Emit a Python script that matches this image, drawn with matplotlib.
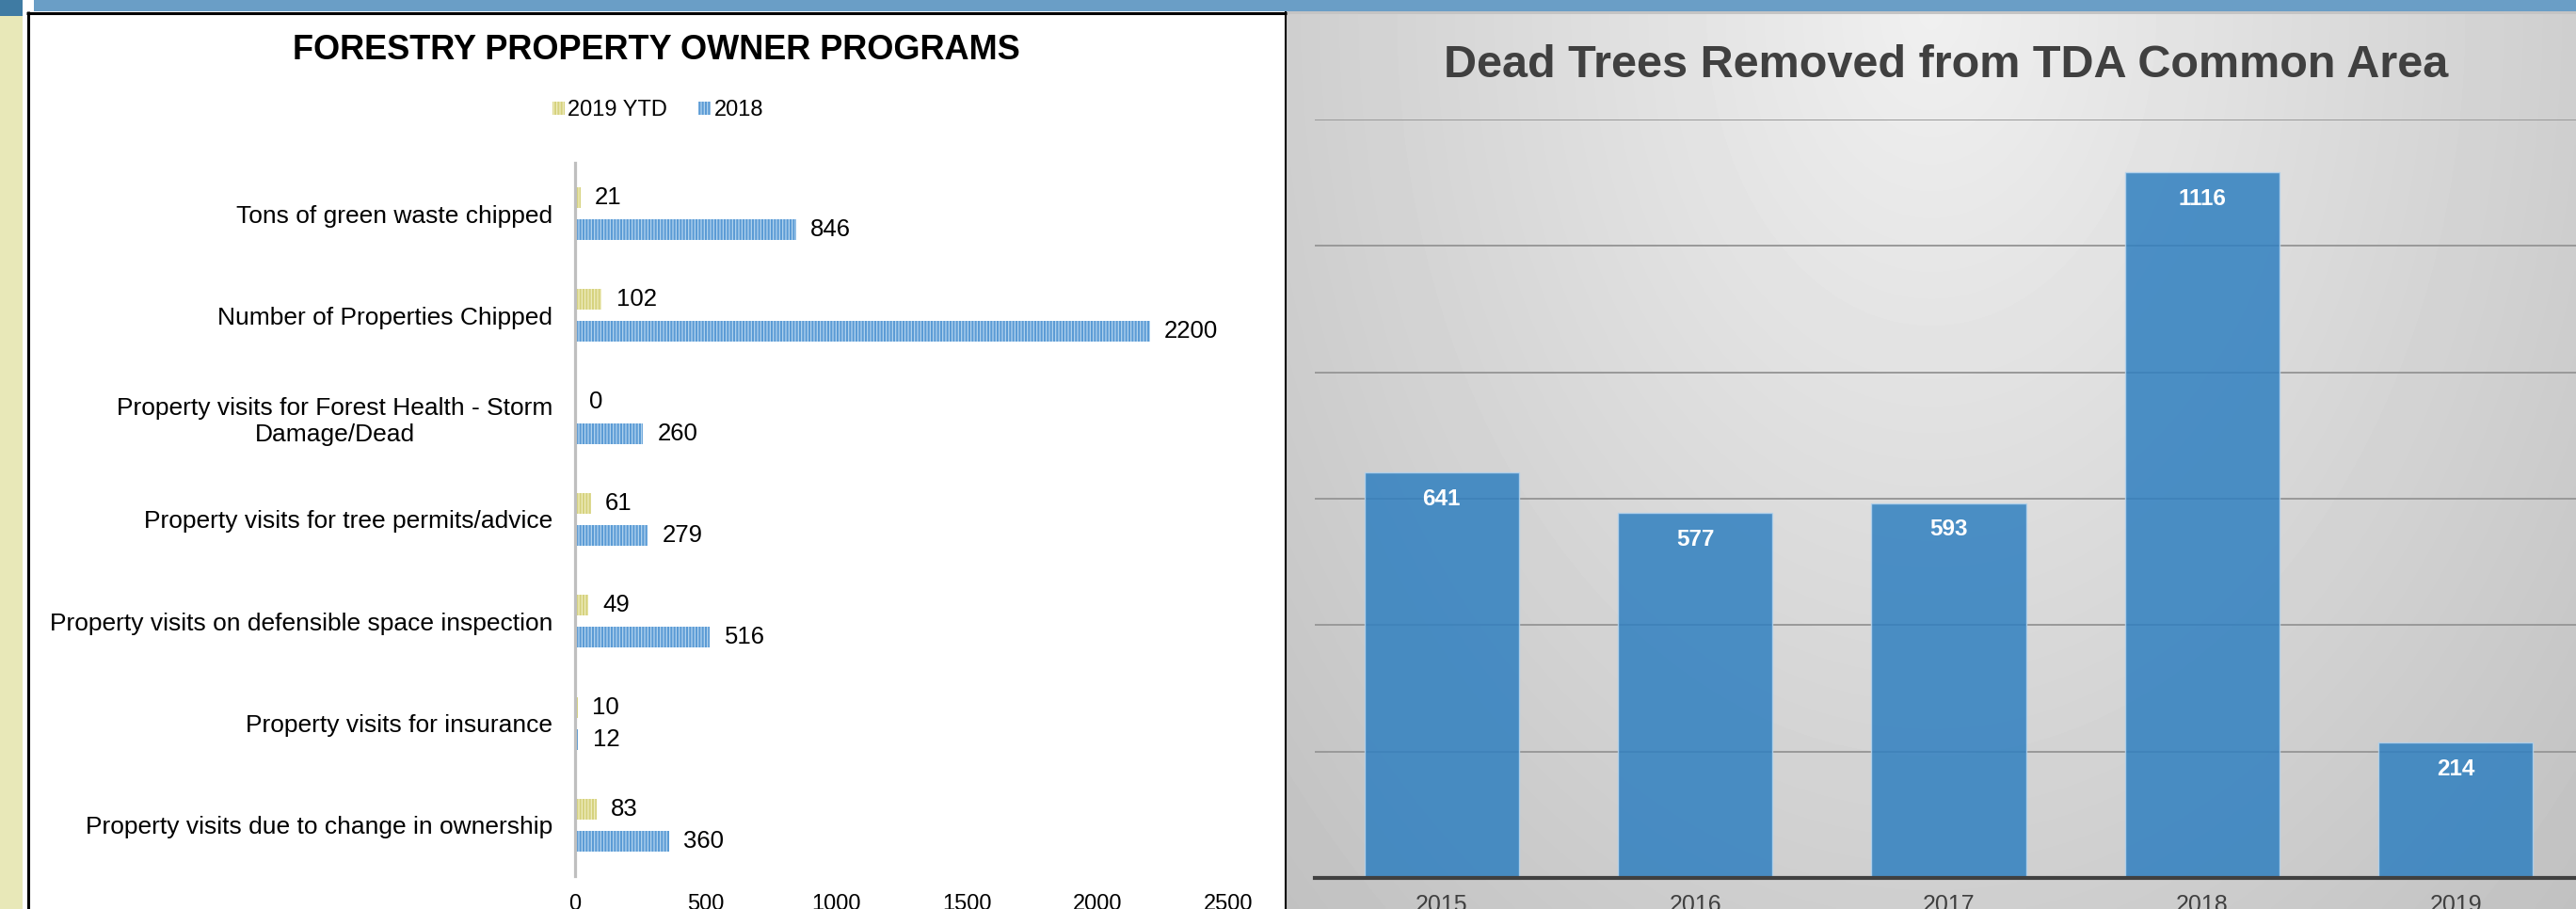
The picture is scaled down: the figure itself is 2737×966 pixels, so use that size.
import numpy as np
import matplotlib.pyplot as plt
from matplotlib import font_manager as fm
from matplotlib.patches import Rectangle

plt.rcParams['font.family'] = ['Liberation Sans', 'DejaVu Sans']
plt.rcParams['hatch.linewidth'] = 0.9

W, H = 2737, 966

# left chart: forestry programs
programs = ["Tons of green waste chipped",
            "Number of Properties Chipped",
            "Property visits for Forest Health - Storm\nDamage/Dead",
            "Property visits for tree permits/advice",
            "Property visits on defensible space inspection",
            "Property visits for insurance",
            "Property visits due to change in ownership"]
ytd_2019 = [21, 102, 0, 61, 49, 10, 83]
year_2018 = [846, 2200, 260, 279, 516, 12, 360]
x_ticks = [0, 500, 1000, 1500, 2000, 2500]

# right chart: dead trees removed
years = ["2015", "2016", "2017", "2018", "2019"]
dead_trees = [641, 577, 593, 1116, 214]


def box(l, t, r, b):
    # pixel rect -> figure fraction
    return [l / W, 1 - b / H, (r - l) / W, (b - t) / H]


fig = plt.figure(figsize=(W / 100, H / 100), dpi=100)

# slide decoration in pixel coords
bg = fig.add_axes([0, 0, 1, 1], zorder=0)
bg.set_xlim(0, W)
bg.set_ylim(H, 0)
bg.axis('off')
bg.add_patch(Rectangle((0, 0), 24, 17, color='#3f7ba3', lw=0))
bg.add_patch(Rectangle((0, 17), 24, H - 17, color='#e8e8b8', lw=0))
bg.add_patch(Rectangle((36, 0), W - 36, 12, color='#6a9ec6', lw=0))

gx, gy = np.meshgrid(np.linspace(-1, 1, 400), np.linspace(0, 1, 300))
shade = 0.94 - 0.13 * np.sqrt(gx ** 2 + gy ** 2)
bg.imshow(shade, cmap='gray', vmin=0, vmax=1, extent=(1367, W, H, 12),
          aspect='auto', interpolation='bilinear')
bg.add_patch(Rectangle((1367, 12), W - 1367, 2.5, color='#c4c4c4', lw=0))
bg.plot([28, 1367], [13.5, 13.5], color='black', lw=2.2, solid_capstyle='butt')
bg.plot([29.5, 29.5], [12, H], color='black', lw=2.2, solid_capstyle='butt')
bg.plot([1366, 1366], [12, H], color='black', lw=1.5, solid_capstyle='butt')

# ---- left chart ----
ax1 = fig.add_axes(box(611, 173, 1305, 931), zorder=1)
ax1.set_facecolor('none')
pos = np.arange(len(programs))
b1 = ax1.barh(pos - 0.157, ytd_2019, height=0.203, color='#d6d27e',
              edgecolor='#efedbf', hatch='|||||', lw=0)
b2 = ax1.barh(pos + 0.157, year_2018, height=0.203, color='#5b9bd5',
              edgecolor='#b3d4ef', hatch='|||||', lw=0)
for i in range(len(programs)):
    ax1.annotate(str(ytd_2019[i]), (ytd_2019[i], pos[i] - 0.157), xytext=(11, 0),
                 textcoords='offset points', va='center', fontsize=18.5)
    ax1.annotate(str(year_2018[i]), (year_2018[i], pos[i] + 0.157), xytext=(11, 0),
                 textcoords='offset points', va='center', fontsize=18.5)
ax1.set_xlim(0, 2500)
ax1.set_ylim(len(programs) - 0.5, -0.5)
ax1.set_xticks(x_ticks)
ax1.set_xticklabels([str(t) for t in x_ticks])
ax1.set_yticks(pos)
ax1.set_yticklabels(programs, multialignment='center')
ax1.tick_params(axis='x', length=0, pad=13.5, labelsize=17)
ax1.tick_params(axis='y', length=0, pad=17, labelsize=19)
for s in ['top', 'right', 'bottom']:
    ax1.spines[s].set_visible(False)
ax1.spines['left'].set_color('#bfbfbf')
ax1.spines['left'].set_linewidth(2.3)

fig.text(697 / W, 1 - 63 / H, "FORESTRY PROPERTY OWNER PROGRAMS", ha='center',
         va='baseline', fontsize=26, weight='bold', color='black')
fig.legend([b1, b2], ["2019 YTD", "2018"], loc='center',
           bbox_to_anchor=(699 / W, 1 - 117 / H), ncol=2, frameon=False,
           fontsize=17, handlelength=0.55, handleheight=0.55,
           handletextpad=0.15, columnspacing=1.4)

# ---- right chart ----
ax2 = fig.add_axes(box(1397, 127, 2744, 933), zorder=1)
ax2.set_facecolor('none')
xs = np.arange(len(years))
ax2.bar(xs, dead_trees, width=0.61, color='#3080c0', alpha=0.85,
        edgecolor='#b5d4ee', lw=1, zorder=3)
for i, v in enumerate(dead_trees):
    ax2.annotate(str(v), (xs[i], v), xytext=(0, -20), textcoords='offset points',
                 ha='center', va='center', color='white', weight='bold',
                 fontsize=17.5, zorder=4)
ax2.set_xlim(-0.5, len(years) - 0.5)
ax2.set_ylim(0, 1200)
ax2.set_yticks(range(0, 1201, 200))
ax2.set_yticklabels([])
ax2.grid(axis='y', color='#999999', lw=1.4, zorder=1)
ax2.set_axisbelow(True)
ax2.set_xticks(xs)
ax2.set_xticklabels(years)
ax2.tick_params(axis='x', length=0, pad=12, labelsize=18, labelcolor='#404040')
ax2.tick_params(axis='y', length=0)
for s in ['top', 'right', 'left']:
    ax2.spines[s].set_visible(False)
ax2.spines['bottom'].set_color('#404040')
ax2.spines['bottom'].set_linewidth(3)
ax2.spines['bottom'].set_zorder(5)

names = {f.name for f in fm.fontManager.ttflist}
if 'Liberation Sans Narrow' in names:
    tfam, tsize = ['Liberation Sans Narrow', 'DejaVu Sans'], 43
else:
    tfam, tsize = ['Liberation Sans', 'DejaVu Sans'], 35
fig.text(2068 / W, 1 - 82 / H, "Dead Trees Removed from TDA Common Area",
         ha='center', va='baseline', fontsize=tsize, weight='bold',
         color='#404040', family=tfam)

fig.savefig('out.png', dpi=100)
